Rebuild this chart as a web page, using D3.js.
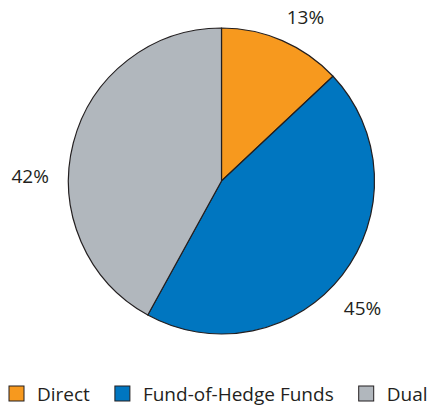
<!DOCTYPE html>
<html>
<head>
<meta charset="utf-8">
<script src="https://cdn.jsdelivr.net/npm/d3@7"></script>
<style>
  body { margin: 0; background: #fff; }
  text { font-family: "Open Sans", sans-serif; fill: #231f20; }
</style>
</head>
<body>
<div id="chart"></div>
<script>
//chart data
var categories = ["Direct", "Fund-of-Hedge Funds", "Dual"];
var values = [13, 45, 42];
var colors = ["#f7991e", "#0076c0", "#b1b7bd"];

//label nudges (px) from the label arc position
var labelNudge = [[12, 2], [-2, 16], [-16, 40]];

//setup spacing size
var svg_w = 433;
var svg_h = 406;
var cx = 221.5, cy = 181, radius = 153;

var svg = d3.select("#chart")
    .append("svg")
    .attr("width", svg_w)
    .attr("height", svg_h);

var g = svg.append("g")
    .attr("transform", "translate(" + cx + "," + cy + ")");

var pie = d3.pie().sort(null).value(function(d) { return d; });
var arcs = pie(values);

var arc = d3.arc().innerRadius(0).outerRadius(radius);
var labelArc = d3.arc().innerRadius(radius + 28).outerRadius(radius + 28);

//slices
g.selectAll(".slice")
    .data(arcs)
    .enter()
    .append("path")
    .attr("class", "slice")
    .attr("d", arc)
    .attr("fill", function(d, i) { return colors[i]; })
    .attr("stroke", "#231f20")
    .attr("stroke-width", 1.2)
    .attr("stroke-linejoin", "round");

//percent labels
g.selectAll(".pct")
    .data(arcs)
    .enter()
    .append("text")
    .attr("class", "pct")
    .attr("x", function(d, i) { return labelArc.centroid(d)[0] + labelNudge[i][0]; })
    .attr("y", function(d, i) { return labelArc.centroid(d)[1] + labelNudge[i][1]; })
    .attr("dy", "0.35em")
    .attr("text-anchor", "middle")
    .style("font-size", "19px")
    .text(function(d) { return d.data + "%"; });

//legend
var legend = svg.append("g").attr("class", "legend");
var lx = 9, ly = 386, box = 15;
categories.forEach(function(c, i) {
  var item = legend.append("g").attr("transform", "translate(" + lx + "," + ly + ")");
  item.append("rect")
      .attr("width", box)
      .attr("height", box)
      .attr("fill", colors[i])
      .attr("stroke", "#231f20")
      .attr("stroke-width", 1);
  var t = item.append("text")
      .attr("x", 28)
      .attr("y", box)
      .style("font-size", "19px")
      .text(c);
  lx += 28 + t.node().getComputedTextLength() + 25;
});
</script>
</body>
</html>
